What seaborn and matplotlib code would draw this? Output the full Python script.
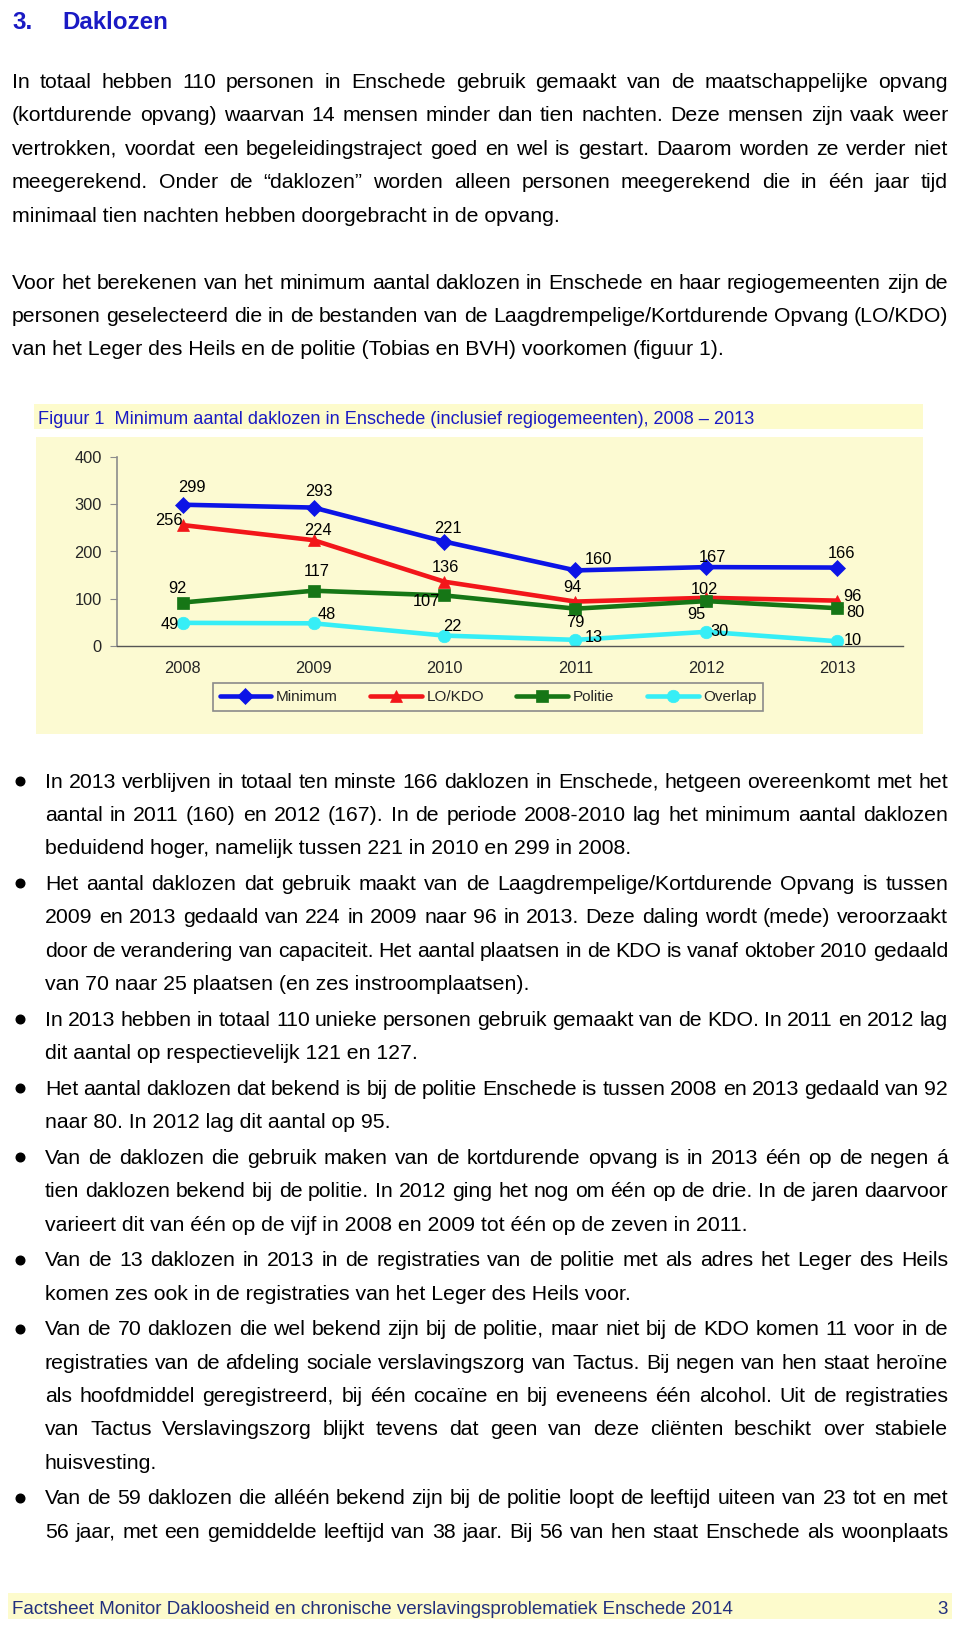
import numpy as np
import seaborn as sns
import matplotlib
matplotlib.use('Agg')
import matplotlib.pyplot as plt
from matplotlib.patches import Rectangle

# ---- data ----
years = ['2008', '2009', '2010', '2011', '2012', '2013']
minimum = [299, 293, 221, 160, 167, 166]
lokdo = [256, 224, 136, 94, 102, 96]
politie = [92, 117, 107, 79, 95, 80]
overlap = [49, 48, 22, 13, 30, 10]
series_names = ['Minimum', 'LO/KDO', 'Politie', 'Overlap']
yticks = [0, 100, 200, 300, 400]

heading_num = '3.'
heading = 'Daklozen'
caption = 'Figuur 1  Minimum aantal daklozen in Enschede (inclusief regiogemeenten), 2008 \u2013 2013'
footer = 'Factsheet Monitor Dakloosheid en chronische verslavingsproblematiek Enschede 2014'
page_no = '3'

para1 = [
    'In totaal hebben 110 personen in Enschede gebruik gemaakt van de maatschappelijke opvang',
    '(kortdurende opvang) waarvan 14 mensen minder dan tien nachten. Deze mensen zijn vaak weer',
    'vertrokken, voordat een begeleidingstraject goed en wel is gestart. Daarom worden ze verder niet',
    'meegerekend. Onder de \u201cdaklozen\u201d  worden alleen personen meegerekend die in \u00e9\u00e9n jaar tijd',
    'minimaal tien nachten hebben doorgebracht in de opvang.',
]
para2 = [
    'Voor het berekenen van het minimum aantal daklozen in Enschede en haar regiogemeenten zijn de',
    'personen geselecteerd die in de bestanden van de Laagdrempelige/Kortdurende Opvang (LO/KDO)',
    'van het Leger des Heils en de politie (Tobias en BVH) voorkomen (figuur 1).',
]
bullets = [
    ['In 2013 verblijven in totaal ten minste 166 daklozen in Enschede, hetgeen overeenkomt met het',
     'aantal in 2011 (160) en 2012 (167).  In de periode 2008-2010 lag het minimum aantal daklozen',
     'beduidend hoger, namelijk tussen 221 in 2010 en 299 in 2008.'],
    ['Het aantal daklozen dat gebruik maakt van de Laagdrempelige/Kortdurende Opvang is tussen',
     '2009 en 2013 gedaald van 224 in 2009 naar 96 in 2013. Deze daling wordt (mede) veroorzaakt',
     'door de verandering van capaciteit. Het aantal plaatsen in de KDO is vanaf oktober 2010 gedaald',
     'van 70 naar 25 plaatsen (en zes instroomplaatsen).'],
    ['In 2013 hebben in totaal 110 unieke personen gebruik gemaakt van de KDO. In 2011 en 2012 lag',
     'dit aantal op respectievelijk 121 en 127.'],
    ['Het aantal daklozen dat bekend is bij de politie Enschede is tussen 2008 en 2013 gedaald van 92',
     'naar 80. In 2012 lag dit aantal op 95.'],
    ['Van de daklozen die gebruik maken van de kortdurende opvang is in 2013 \u00e9\u00e9n op de negen \u00e1',
     'tien daklozen bekend bij de politie. In 2012 ging het nog om \u00e9\u00e9n op de drie. In de jaren daarvoor',
     'varieert dit van \u00e9\u00e9n op de vijf in 2008 en 2009 tot \u00e9\u00e9n op de zeven in 2011.'],
    ['Van de 13 daklozen in 2013 in de registraties van de politie met als adres het Leger des Heils',
     'komen zes ook in de registraties van het Leger des Heils voor.'],
    ['Van de 70 daklozen die wel bekend zijn bij de politie, maar niet bij de KDO komen 11 voor in de',
     'registraties van de afdeling sociale verslavingszorg van Tactus. Bij negen van hen staat  hero\u00efne',
     'als hoofdmiddel geregistreerd, bij \u00e9\u00e9n coca\u00efne en bij eveneens \u00e9\u00e9n alcohol. Uit de registraties',
     'van Tactus Verslavingszorg blijkt tevens dat geen van deze cli\u00ebnten beschikt over stabiele',
     'huisvesting.'],
    ['Van de  59 daklozen die all\u00e9\u00e9n bekend zijn bij de politie loopt de leeftijd uiteen van 23 tot en met',
     '56 jaar, met een gemiddelde leeftijd van 38 jaar. Bij 56 van hen staat Enschede als woonplaats'],
]

# ---- style ----
sns.set_style('ticks')
plt.rcParams['font.family'] = ['Liberation Sans', 'DejaVu Sans']

W, H = 960, 1626
panel_col = '#fcfad2'
band_col = '#fdfbcc'
blue_txt = '#1a1ac4'
colors = ['#0c14e6', '#f2161a', '#167616', '#36eef6']
markers = ['D', '^', 's', 'o']
# label offsets in pixels (dx, dy up)
offsets = [
    [(9, 17), (5, 16), (3, 13), (23, 11), (6, 10), (4, 14)],
    [(-14, 5), (4, 10), (1, 14), (-3, 14), (-2, 8), (15, 4)],
    [(-5, 14), (3, 19), (-18, -6), (0, -14), (-10, -13), (18, -4)],
    [(-13, -2), (13, 9), (8, 9), (18, 2), (13, 0), (15, 1)],
]

fig = plt.figure(figsize=(W / 100, H / 100), dpi=100)
fig.patch.set_facecolor('white')
page = fig.add_axes([0, 0, 1, 1], zorder=0)
page.set_xlim(0, W)
page.set_ylim(H, 0)
page.axis('off')
renderer = fig.canvas.get_renderer()


def width_of(s, size, **kw):
    t = page.text(0, 0, s, fontsize=size, **kw)
    w = t.get_window_extent(renderer=renderer).width
    t.remove()
    return w


def fit_size(s, target, **kw):
    return 14 * target / width_of(s, 14, **kw)


def draw_line(s, x0, x1, yc, size, justify, color='black', **kw):
    base = yc + 0.36 * size * 100 / 72
    if not justify:
        page.text(x0, base, s, fontsize=size, color=color, va='baseline', ha='left', **kw)
        return
    words = s.split()
    texts = [page.text(0, base, w, fontsize=size, color=color, va='baseline', ha='left', **kw)
             for w in words]
    widths = [t.get_window_extent(renderer=renderer).width for t in texts]
    gap = (x1 - x0 - sum(widths)) / max(len(words) - 1, 1)
    x = x0
    for t, w in zip(texts, widths):
        t.set_x(x)
        x += w + gap


body = 0.5 * (fit_size(para1[-1], 563) + fit_size(para2[-1], 701))

# heading
hsize = fit_size(heading, 106, fontweight='bold')
draw_line(heading_num, 12, 0, 20, hsize, False, color=blue_txt, fontweight='bold')
draw_line(heading, 62, 0, 20, hsize, False, color=blue_txt, fontweight='bold')

# paragraphs
for i, line in enumerate(para1):
    draw_line(line, 12, 948, 80 + 33.6 * i, body, i < len(para1) - 1)
for i, line in enumerate(para2):
    draw_line(line, 12, 948, 281 + 33.3 * i, body, i < len(para2) - 1)

y = 780
for k, b in enumerate(bullets):
    page.plot([20], [y + 1], 'o', ms=6.2, color='black')
    for i, line in enumerate(b):
        last = (i == len(b) - 1) and k != len(bullets) - 1
        draw_line(line, 45, 948, y, body, not last)
        y += 33.3
    y += 2.5

# caption band and chart panel
page.add_patch(Rectangle((34, 404), 889, 25, facecolor=band_col, edgecolor='none'))
csize = fit_size(caption, 720)
draw_line(caption, 38, 0, 417, csize, False, color=blue_txt)
page.add_patch(Rectangle((36, 437), 887, 297, facecolor=panel_col, edgecolor='none'))

# footer
page.add_patch(Rectangle((8, 1593), 944, 26, facecolor=band_col, edgecolor='none'))
fsize = fit_size(footer, 730)
draw_line(footer, 12, 0, 1607, fsize, False, color='#22307e')
page.text(948, 1607 + 0.36 * fsize * 100 / 72, page_no, fontsize=fsize, color='#22307e',
          ha='right', va='baseline')

# ---- chart ----
ax = fig.add_axes([117 / W, 1 - 646 / H, (903 - 117) / W, (646 - 457) / H], zorder=2)
ax.set_facecolor('none')
xs = np.arange(len(years))
for name, vals, c, m, offs in zip(series_names, [minimum, lokdo, politie, overlap],
                                  colors, markers, offsets):
    sns.lineplot(x=xs, y=vals, ax=ax, color=c, marker=m, markersize=9 if m != 'D' else 8,
                 markeredgecolor=c, markeredgewidth=0.5, linewidth=3.3, label=name)
    for xi, v, (dx, dy) in zip(xs, vals, offs):
        ax.annotate(str(v), (xi, v), xytext=(dx, dy), textcoords='offset pixels',
                    ha='center', va='center', fontsize=11.8, color='black', zorder=5)

ax.set_xlim(-0.5, len(years) - 0.5)
ax.set_ylim(0, 400)
ax.set_yticks(yticks)
ax.set_xticks(xs)
ax.set_xticklabels(years)
ax.set_xlabel('')
ax.set_ylabel('')
ax.tick_params(axis='y', direction='out', length=5, color='#8c8c8c', pad=6, labelsize=11.8)
ax.tick_params(axis='x', length=0, pad=11, labelsize=11.8)
for s in ['top', 'right']:
    ax.spines[s].set_visible(False)
ax.spines['left'].set_color('#8c8c8c')
ax.spines['left'].set_linewidth(1.2)
ax.spines['bottom'].set_color('#555555')
ax.spines['bottom'].set_linewidth(1)

handles, labels = ax.get_legend_handles_labels()
leg = ax.legend(handles, labels, ncol=4, loc='center', mode='expand',
                bbox_to_anchor=(205 / W, 1 - 714 / H, (771 - 205) / W, 34 / H),
                bbox_transform=fig.transFigure, frameon=True, fancybox=False,
                edgecolor='#8a8a8a', facecolor=panel_col, framealpha=1,
                fontsize=11, handlelength=3.4, borderpad=0.45, handletextpad=0.3)
leg.get_frame().set_linewidth(1.2)

fig.savefig('out.png', dpi=100)
